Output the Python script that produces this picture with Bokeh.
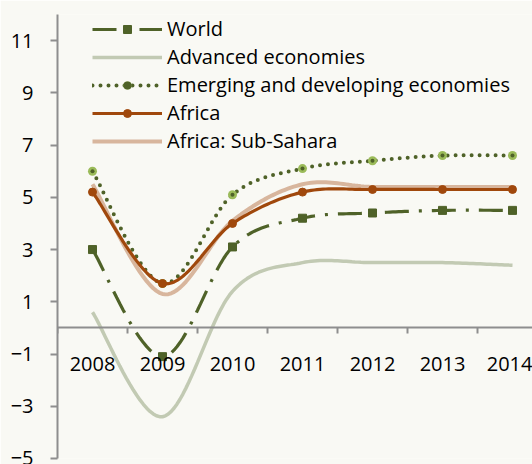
import numpy as np
from bokeh.plotting import figure
from bokeh.models import (LinearAxis, FixedTicker, Legend, LegendItem, Range1d,
                          BasicTickFormatter)
from bokeh.embed import file_html
from bokeh.resources import INLINE

# ---- data ----
years = [2008, 2009, 2010, 2011, 2012, 2013, 2014]
world = [3.0, -1.1, 3.1, 4.2, 4.4, 4.5, 4.5]
advanced = [0.6, -3.4, 1.4, 2.5, 2.5, 2.5, 2.4]
emerging = [6.0, 1.7, 5.1, 6.1, 6.4, 6.6, 6.6]
africa = [5.2, 1.7, 4.0, 5.2, 5.3, 5.3, 5.3]
subsahara = [5.5, 1.3, 4.1, 5.5, 5.4, 5.4, 5.4]
y_ticks = [-5, -3, -1, 1, 3, 5, 7, 9, 11]

FONT = "Open Sans"
BG = "#F9F9F4"
AXC = "#8E8E8E"


def smooth(xs, ys, n=24):
    """Excel-style smoothed line (Catmull-Rom Bezier) through the given points."""
    P = np.column_stack([np.asarray(xs, float), np.asarray(ys, float)])
    out = []
    m = len(P)
    for i in range(m - 1):
        p0 = P[i - 1] if i > 0 else P[i]
        p1 = P[i]
        p2 = P[i + 1]
        p3 = P[i + 2] if i + 2 < m else P[i + 1]
        c1 = p1 + (p2 - p0) / 6.0
        c2 = p2 - (p3 - p1) / 6.0
        t = np.linspace(0, 1, n, endpoint=(i == m - 2))[:, None]
        seg = ((1 - t) ** 3) * p1 + 3 * ((1 - t) ** 2) * t * c1 + 3 * (1 - t) * t ** 2 * c2 + t ** 3 * p2
        out.append(seg)
    arr = np.vstack(out)
    return arr[:, 0], arr[:, 1]


p = figure(width=532, height=464, output_backend="svg", toolbar_location=None,
           x_axis_type=None, y_axis_type=None,
           x_range=Range1d(2007.5, 2007.5 + 475 / 70.0), y_range=Range1d(-5, 12),
           min_border_left=57, min_border_right=0, min_border_top=14, min_border_bottom=6)
p.background_fill_color = BG
p.border_fill_color = BG
p.outline_line_color = None
p.grid.visible = False

# y axis
yax = LinearAxis(ticker=FixedTicker(ticks=y_ticks))
yax.axis_line_color = AXC
yax.axis_line_width = 2
yax.major_tick_line_color = AXC
yax.major_tick_line_width = 2
yax.major_tick_out = 7
yax.major_tick_in = 0
yax.minor_tick_line_color = None
yax.major_label_standoff = 17
yax.major_label_text_font = FONT
yax.major_label_text_font_size = "20px"
yax.major_label_text_color = "#000000"
p.add_layout(yax, "left")

# x axis placed on the zero line
minor = [y - 0.5 for y in years] + [years[-1] + 0.5]
xax = LinearAxis(ticker=FixedTicker(ticks=years, minor_ticks=minor), fixed_location=0,
                 formatter=BasicTickFormatter(use_scientific=False))
xax.axis_line_color = AXC
xax.axis_line_width = 2
xax.major_tick_out = 0
xax.major_tick_in = 0
xax.major_tick_line_color = None
xax.minor_tick_line_color = AXC
xax.minor_tick_line_width = 2
xax.minor_tick_out = 6
xax.minor_tick_in = 0
xax.major_label_standoff = 23
xax.major_label_text_font = FONT
xax.major_label_text_font_size = "20px"
xax.major_label_text_color = "#000000"
p.add_layout(xax, "below")

C_WORLD = "#4F6228"
C_ADV = "#C2CAB3"
C_EMG = "#4F6228"
C_EMG_M = "#9BBB59"
C_AFR = "#A0480C"
C_SSA = "#D8B69D"

ax, ay = smooth(years, advanced)
r_adv = p.line(ax, ay, line_color=C_ADV, line_width=3.5)

sx, sy = smooth(years, subsahara)
r_ssa = p.line(sx, sy, line_color=C_SSA, line_width=4)

wx, wy = smooth(years, world)
r_w = p.line(wx, wy, line_color=C_WORLD, line_width=3.2, line_dash="24 10 3 10")
r_wm = p.scatter(years, world, marker="square", size=8, fill_color=C_WORLD, line_color=C_WORLD)

ex, ey = smooth(years, emerging, n=60)
r_e = p.line(ex, ey, line_color=C_EMG, line_width=4, line_dash="0 8", line_cap="round")
r_em = p.scatter(years, emerging, marker="circle", size=9, fill_color=C_EMG_M, line_color=None)
r_em2 = p.scatter(years, emerging, marker="circle", size=4, fill_color=C_EMG, line_color=None)

fx, fy = smooth(years, africa)
r_a = p.line(fx, fy, line_color=C_AFR, line_width=3.2)
r_am = p.scatter(years, africa, marker="circle", size=8, fill_color=C_AFR, line_color=C_AFR)

legend = Legend(items=[
    LegendItem(label="World", renderers=[r_w, r_wm]),
    LegendItem(label="Advanced economies", renderers=[r_adv]),
    LegendItem(label="Emerging and developing economies", renderers=[r_e, r_em, r_em2]),
    LegendItem(label="Africa", renderers=[r_a, r_am]),
    LegendItem(label="Africa: Sub-Sahara", renderers=[r_ssa]),
], location=(35, 304))
legend.glyph_width = 70
legend.glyph_height = 20
legend.label_height = 20
legend.spacing = 1
legend.padding = 0
legend.margin = 0
legend.label_standoff = 5
legend.label_text_font = FONT
legend.label_text_font_size = "20px"
legend.label_text_color = "#000000"
legend.background_fill_alpha = 0
legend.border_line_color = None
p.add_layout(legend)

open("out.html", "w").write(file_html(p, INLINE))
